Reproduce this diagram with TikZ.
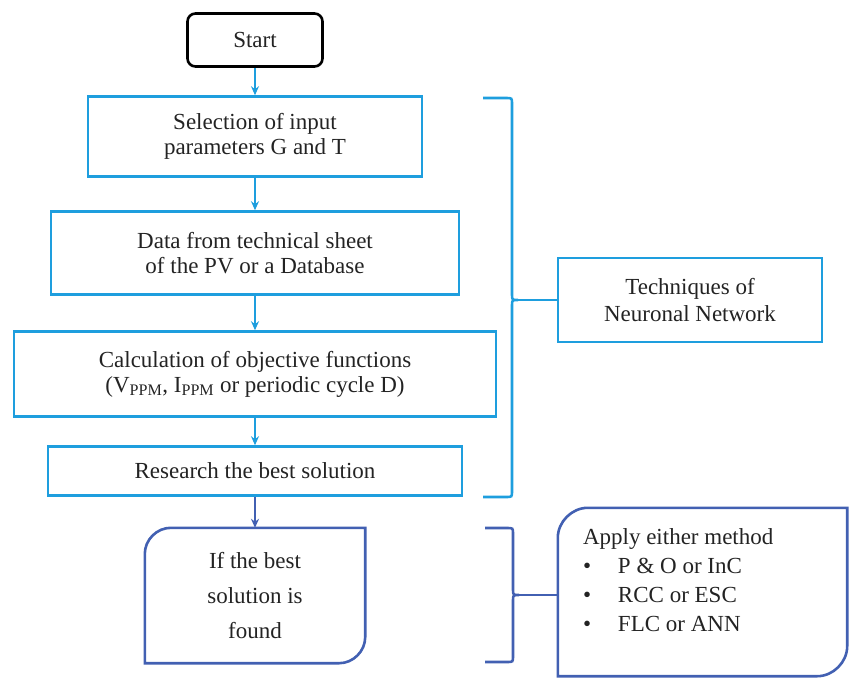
\documentclass[tikz,border=0pt]{standalone}
\usepackage{fontspec}
\setmainfont{Liberation Serif}
\usetikzlibrary{positioning,arrows.meta}
\definecolor{flowblue}{RGB}{30,158,222}
\definecolor{darkblue}{RGB}{66,96,178}
\definecolor{inktext}{RGB}{35,35,35}

\begin{document}
\begin{tikzpicture}[x=1pt,y=-1pt,>={Stealth[length=9pt,width=8pt]},
    every node/.style={text=inktext},
    startbox/.style={draw=black,line width=2.6pt,rounded corners=8pt,minimum width=135pt,minimum height=53pt,font=\fontsize{23}{24}\selectfont},
    flowbox/.style={draw=flowblue,line width=2.6pt,align=center,inner sep=0pt,font=\fontsize{23}{25}\selectfont},
    foundbox/.style={align=center,inner sep=0pt,font=\fontsize{23}{35}\selectfont},
    darkline/.style={draw=darkblue,line width=2.6pt},
    bracket/.style={draw=flowblue,line width=2.6pt},
    arrowline/.style={draw=flowblue,line width=2pt}]
  \useasboundingbox (0,0) rectangle (849,678);

  % main column
  \node[startbox] (start) at (255,40) {Start};
  \node[flowbox,minimum width=334pt,minimum height=80pt,below=27.4pt of start] (sel) {Selection of input\\parameters G and T};
  \node[flowbox,minimum width=408pt,minimum height=83pt,below=32.4pt of sel] (data) {Data from technical sheet\\of the PV or a Database};
  \node[flowbox,minimum width=482pt,minimum height=85pt,below=34.4pt of data] (calc) {Calculation of objective functions\\(V\textsubscript{PPM}, I\textsubscript{PPM} or periodic cycle D)};
  \node[flowbox,minimum width=414pt,minimum height=49pt,below=27.4pt of calc] (search) {Research the best solution};
  \node[foundbox,minimum width=220pt,minimum height=135pt,below=31pt of search] (found) {If the best\\solution is\\found};
  \draw[darkline] ([xshift=26pt]found.north west) -- (found.north east) -- ([yshift=26pt]found.south east)
    .. controls ([yshift=12pt]found.south east) and ([xshift=-12pt]found.south east) .. ([xshift=-26pt]found.south east) -- (found.south west)
    -- ([yshift=-26pt]found.north west) .. controls ([yshift=-12pt]found.north west) and ([xshift=12pt]found.north west) .. ([xshift=26pt]found.north west) -- cycle;

  \path[->,arrowline]
    (start) edge (sel)
    (sel) edge (data)
    (data) edge (calc)
    (calc) edge (search);
  \draw[->,arrowline,draw=darkblue] (search) -- (found);

  % right side
  \node[flowbox,minimum width=264pt,minimum height=84pt,font=\fontsize{23}{27}\selectfont] (tech) at (690,300) {Techniques of\\Neuronal Network};
  \node[minimum width=289pt,minimum height=168pt] (meth) at (702.5,592) {};
  \draw[darkline] ([xshift=30pt]meth.north west) -- (meth.north east) -- ([yshift=30pt]meth.south east)
    .. controls ([yshift=14pt]meth.south east) and ([xshift=-14pt]meth.south east) .. ([xshift=-30pt]meth.south east) -- (meth.south west)
    -- ([yshift=-30pt]meth.north west) .. controls ([yshift=-14pt]meth.north west) and ([xshift=14pt]meth.north west) .. ([xshift=30pt]meth.north west) -- cycle;
  \node[anchor=north west,align=left,inner sep=0pt,font=\fontsize{23}{29}\selectfont] (methtxt) at ([xshift=25pt,yshift=-21pt]meth.north west)
    {Apply either method\\
     \makebox[35pt][l]{\textbullet}P \& O or InC\\
     \makebox[35pt][l]{\textbullet}RCC or ESC\\
     \makebox[35pt][l]{\textbullet}FLC or ANN};

  % brackets
  \coordinate (tip1) at (518,300);
  \draw[bracket] (483,98) -- (506,98) .. controls (512,98) .. (512,104) -- (512,294)
    .. controls (512,300) .. (tip1) .. controls (512,300) .. (512,306) -- (512,491)
    .. controls (512,497) .. (506,497) -- (483,497);
  \draw[bracket] (tip1) -- (tip1 -| tech.west);

  \coordinate (tip2) at (519,595);
  \draw[darkline] (485,528) -- (507,528) .. controls (513,528) .. (513,534) -- (513,589)
    .. controls (513,595) .. (tip2) .. controls (513,595) .. (513,601) -- (513,656)
    .. controls (513,662) .. (507,662) -- (485,662);
  \draw[darkline] (tip2) -- (tip2 -| meth.west);
\end{tikzpicture}
\end{document}
